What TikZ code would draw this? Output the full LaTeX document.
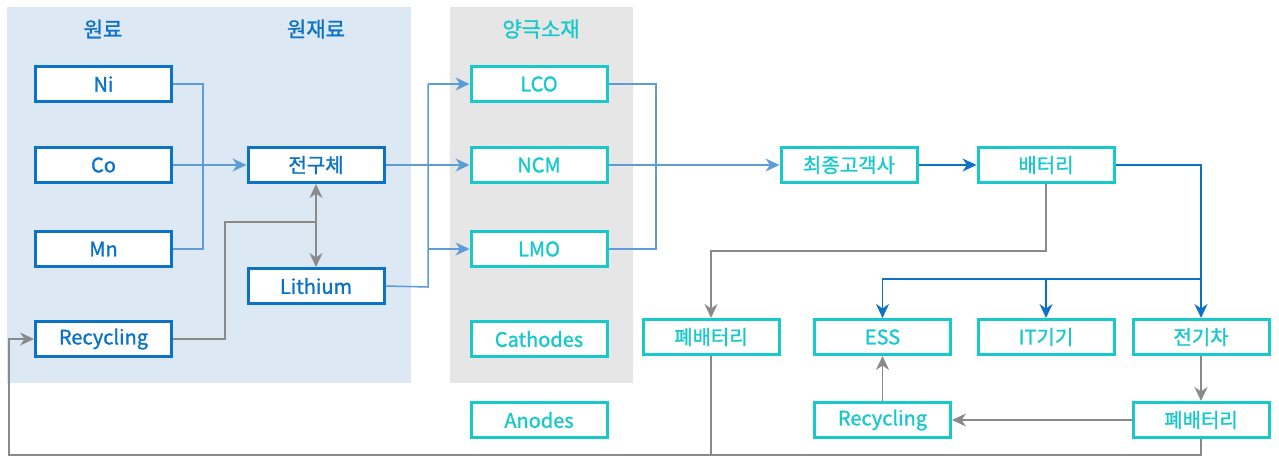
\documentclass[tikz,border=0pt]{standalone}
\usepackage{fontspec}
\setmainfont{Noto Sans CJK KR}[FakeBold=1.2]
\usetikzlibrary{arrows.meta}
\definecolor{bgblue}{HTML}{DDE8F5}
\definecolor{bggray}{HTML}{E6E6E6}
\definecolor{dblue}{HTML}{0B72C5}
\definecolor{cyanc}{HTML}{18C9CC}
\definecolor{lblue}{HTML}{5E9CD8}
\definecolor{gline}{HTML}{8A8A8A}
\tikzset{
  box/.style={draw, line width=3pt, fill=white, minimum width=136pt, minimum height=35pt, inner sep=0pt, font=\fontsize{20}{22}\selectfont},
  bbox/.style={box, draw=dblue, text=dblue},
  cbox/.style={box, draw=cyanc, text=cyanc},
  title/.style={font=\fontsize{21}{23}\selectfont, inner sep=0pt},
  tip/.style={-{Stealth[length=14pt,width=13pt,inset=4.5pt]}},
  lb/.style={draw=lblue, line width=1.5pt},
  db/.style={draw=dblue, line width=1.5pt},
  gl/.style={draw=gline, line width=1.5pt},
}
\begin{document}
\begin{tikzpicture}[x=1pt,y=-1pt]
\useasboundingbox (0,0) rectangle (1279,457);
\fill[bgblue] (7,7) rectangle (411,383);
\fill[bggray] (450,7) rectangle (633,383);
\node[title, text=dblue] (t1) at (103,29) {원료};
\node[title, text=dblue] (t2) at (316,29) {원재료};
\node[title, text=cyanc] (t3) at (541,29) {양극소재};
% left column
\node[bbox] (ni) at (103.5,84) {Ni};
\node[bbox] (co) at (103.5,165) {Co};
\node[bbox] (mn) at (103.5,249) {Mn};
\node[bbox] (rec) at (103.5,339) {Recycling};
\node[bbox] (pre) at (316,165) {전구체};
\node[bbox] (li) at (316,286) {Lithium};
% cathode column
\node[cbox] (lco) at (539,84) {LCO};
\node[cbox] (ncm) at (539,165) {NCM};
\node[cbox] (lmo) at (539,249) {LMO};
\node[cbox] (cat) at (539,339) {Cathodes};
\node[cbox] (ano) at (539,420) {Anodes};
% right part
\node[cbox] (cust) at (849,165) {최종고객사};
\node[cbox] (bat) at (1046,165) {배터리};
\node[cbox] (ess) at (882.5,337) {ESS};
\node[cbox] (it) at (1046,337) {IT기기};
\node[cbox] (ev) at (1201,337) {전기차};
\node[cbox] (wbl) at (711,337) {폐배터리};
\node[cbox] (rec2) at (882.5,420) {Recycling};
\node[cbox] (wbr) at (1201,420) {폐배터리};
% coordinates
\coordinate (j1) at (203,84);
\coordinate (j2) at (203,249);
\coordinate (r1) at (225,339);
\coordinate (r2) at (225,222);
\coordinate (r3) at (316,222);
\coordinate (s1) at (428,84);
\coordinate (s2) at (428,249);
\coordinate (s3) at (428,287);
\coordinate (m1) at (656,84);
\coordinate (m2) at (656,249);
\coordinate (b1) at (1201,165);
\coordinate (b2) at (1201,279);
\coordinate (b3) at (882.5,279);
\coordinate (b4) at (1046,279);
\coordinate (g1) at (1046,251);
\coordinate (g2) at (711,251);
\coordinate (l1) at (1201,455);
\coordinate (l2) at (9,455);
\coordinate (l3) at (9,339);
\coordinate (l4) at (711,455);
% light blue connectors
\draw[lb] (ni.east) -- (j1) -- (j2) -- (mn.east);
\draw[lb, tip] (co.east) -- (pre.west);
\draw[lb, tip] (pre.east) -- (ncm.west);
\draw[lb] (li.east) -- (s3) -- (s1);
\draw[lb, tip] (s1) -- (lco.west);
\draw[lb, tip] (s2) -- (lmo.west);
\draw[lb] (lco.east) -- (m1) -- (m2) -- (lmo.east);
\draw[lb, tip] (ncm.east) -- (cust.west);
% dark blue connectors
\draw[db, tip] (cust.east) -- (bat.west);
\draw[db, tip] (bat.east) -- (b1) -- (ev.north);
\draw[db, tip] (b2) -- (b3) -- (ess.north);
\draw[db, tip] (b4) -- (it.north);
% gray connectors
\draw[gl] (rec.east) -- (r1) -- (r2) -- (r3);
\draw[gl, {Stealth[length=14pt,width=13pt,inset=4.5pt]}-{Stealth[length=14pt,width=13pt,inset=4.5pt]}] (pre.south) -- (li.north);
\draw[gl, tip] (bat.south) -- (g1) -- (g2) -- (wbl.north);
\draw[gl, tip] (ev.south) -- (wbr.north);
\draw[gl, tip] (wbr.west) -- (rec2.east);
\draw[gl, tip] (rec2.north) -- (ess.south);
\draw[gl, tip] (wbr.south) -- (l1) -- (l2) -- (l3) -- (rec.west);
\draw[gl] (wbl.south) -- (l4);
\end{tikzpicture}
\end{document}
